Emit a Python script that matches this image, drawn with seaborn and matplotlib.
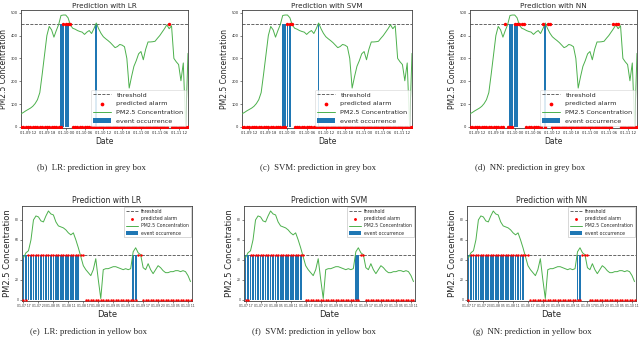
import numpy as np
import matplotlib
matplotlib.use('Agg')
import matplotlib.pyplot as plt
import seaborn as sns

# ---- grey box (top row), hourly PM2.5 ----
pm_grey = [57, 63, 70, 76, 82, 90, 102, 119, 150, 230, 315, 400, 440, 425, 393, 422,
           448, 488, 490, 490, 478, 446, 432, 428, 422, 418, 415, 405, 415, 422, 409, 430,
           455, 430, 410, 395, 386, 378, 369, 358, 347, 352, 361, 358, 351, 300, 170, 220,
           265, 290, 320, 330, 294, 340, 372, 372, 373, 375, 388, 400, 415, 430, 447, 430,
           443, 300, 285, 273, 202, 280, 3, 322]
event_grey = [17, 18, 19, 20, 32]
alarm_grey_lr = [18, 19, 20, 21, 63]
alarm_grey_svm = [19, 20, 21]
alarm_grey_nn = [15, 19, 20, 21, 22, 23, 31, 33, 34, 61, 62, 63]
thr_grey = 450
tick_pos_grey = [3, 11, 19, 27, 35, 43, 51, 59, 67]
tick_lab_grey = ['01-09 12', '01-09 18', '01-10 00', '01-10 06', '01-10 12',
                 '01-10 18', '01-11 00', '01-11 06', '01-11 12']

# ---- yellow box (bottom row) ----
pm_yellow = [42, 47, 49, 60, 80, 84, 83, 79, 78, 84, 89, 86, 85, 78, 74, 73,
             72, 70, 67, 65, 67, 60, 52, 43, 34, 30, 27, 24, 30, 41, 20, 1,
             30, 31, 31, 32, 33, 33, 32, 31, 30, 31, 30, 31, 48, 52, 47, 45,
             32, 30, 36, 30, 26, 30, 34, 32, 29, 27, 27, 28, 28, 29, 29, 28,
             29, 28, 24, 18]
event_yellow = [0, 1, 2, 3, 4, 5, 6, 7, 8, 9, 10, 11, 12, 13, 14, 15, 16, 17, 18,
                19, 20, 21, 22, 44, 45]
alarm_yellow_lr = [2, 3, 4, 5, 6, 7, 8, 9, 10, 11, 12, 13, 14, 15, 16, 17, 18, 19,
                   20, 21, 22, 23, 24, 46, 47]
alarm_yellow_svm = [2, 3, 4, 5, 6, 7, 8, 9, 10, 11, 12, 13, 14, 15, 16, 17, 18, 19,
                    20, 21, 22, 23, 46, 47]
alarm_yellow_nn = [1, 2, 3, 4, 5, 6, 7, 8, 9, 10, 11, 12, 13, 14, 15, 16, 17, 18, 19,
                   20, 21, 22, 23, 24, 46, 47, 48]
thr_yellow = 45
tick_pos_yellow = [0, 6, 12, 18, 24, 30, 36, 42, 48, 54, 60, 66]
tick_lab_yellow = ['01-07 17', '01-07 23', '01-08 05', '01-08 11', '01-08 17',
                   '01-08 23', '01-09 05', '01-09 11', '01-09 17', '01-09 23',
                   '01-10 05', '01-10 11']

captions_top = ['(b)  LR: prediction in grey box', '(c)  SVM: prediction in grey box',
                '(d)  NN: prediction in grey box']
captions_bot = ['(e)  LR: prediction in yellow box', '(f)  SVM: prediction in yellow box',
                '(g)  NN: prediction in yellow box']

sns.set_style('ticks')
W, H = 640, 346
fig = plt.figure(figsize=(W / 100, H / 100), dpi=100)


def box(l, t, r, b):
    return fig.add_axes([l / W, 1 - b / H, (r - l) / W, (b - t) / H])


def draw(ax, pm, events, alarms, thr, name, small):
    x = np.arange(len(pm))
    occ = np.zeros(len(pm))
    occ[events] = thr
    pred = np.zeros(len(pm))
    pred[alarms] = thr
    ax.axhline(thr, color='0.3', ls='--', lw=0.6, label='threshold', zorder=1)
    ax.bar(x, occ, width=0.72, color='#1f77b4', linewidth=0,
           label='event occurrence', zorder=2)
    sns.lineplot(x=x, y=pm, ax=ax, color='#4cb04c', lw=0.7,
                 label='PM2.5 Concentration', zorder=3)
    sns.scatterplot(x=x, y=pred, ax=ax, color='red', s=3 if small else 6,
                    linewidth=0, label='predicted alarm', zorder=4)
    ax.set_title('Prediction with ' + name, fontsize=5.5 if small else 5.2,
                 pad=2 if small else 1.2)
    ax.set_xlabel('Date', fontsize=6 if small else 5.5, labelpad=1)
    ax.set_ylabel('PM2.5 Concentration', fontsize=6 if small else 5.5, labelpad=1.5)
    for s in ax.spines.values():
        s.set_linewidth(0.6)
        s.set_color('0.25')
    ax.tick_params(length=1.5, width=0.4, pad=1)
    h, l = ax.get_legend_handles_labels()
    order = ['threshold', 'predicted alarm', 'PM2.5 Concentration', 'event occurrence']
    hl = [h[l.index(o)] for o in order]
    if small:
        ax.legend(hl, order, loc='upper right', fontsize=3.3, borderaxespad=0.2,
                  handlelength=2.5, markerscale=1.2, fancybox=False, framealpha=0.9,
                  edgecolor='0.7').get_frame().set_linewidth(0.4)
    else:
        ax.legend(hl, order, loc='lower right', fontsize=4.6, borderaxespad=0.3,
                  handlelength=2.8, markerscale=1.1, framealpha=0.85,
                  edgecolor='0.8').get_frame().set_linewidth(0.4)


top_boxes = [(21, 10, 188, 128), (242, 10, 412, 128), (470, 10, 637, 128)]
bot_boxes = [(22, 206, 192, 301), (244, 206, 415, 301), (467, 206, 636, 301)]
names = ['LR', 'SVM', 'NN']
alarms_top = [alarm_grey_lr, alarm_grey_svm, alarm_grey_nn]
alarms_bot = [alarm_yellow_lr, alarm_yellow_svm, alarm_yellow_nn]

for i in range(3):
    ax = box(*top_boxes[i])
    draw(ax, pm_grey, event_grey, alarms_top[i], thr_grey, names[i], False)
    ax.set_xlim(0, len(pm_grey) - 1)
    ax.set_ylim(-5, 512)
    ax.set_yticks([0, 100, 200, 300, 400, 500])
    ax.set_xticks(tick_pos_grey)
    ax.set_xticklabels(tick_lab_grey)
    ax.tick_params(labelsize=2.6)

    ax = box(*bot_boxes[i])
    draw(ax, pm_yellow, event_yellow, alarms_bot[i], thr_yellow, names[i], True)
    ax.set_xlim(-0.6, len(pm_yellow) - 0.4)
    ax.set_ylim(-1.5, 94)
    ax.set_yticks([0, 20, 40, 60, 80])
    ax.set_xticks(tick_pos_yellow)
    ax.set_xticklabels(tick_lab_yellow)
    ax.tick_params(labelsize=2.2)

cap_x_top = [91, 318, 530]
cap_x_bot = [88, 314, 532]
for i in range(3):
    fig.text(cap_x_top[i] / W, 1 - 168 / H, captions_top[i], ha='center', va='center',
             fontsize=6.3, family='Liberation Serif')
    fig.text(cap_x_bot[i] / W, 1 - 332 / H, captions_bot[i], ha='center', va='center',
             fontsize=6.3, family='Liberation Serif')

fig.savefig('out.png', dpi=100)
